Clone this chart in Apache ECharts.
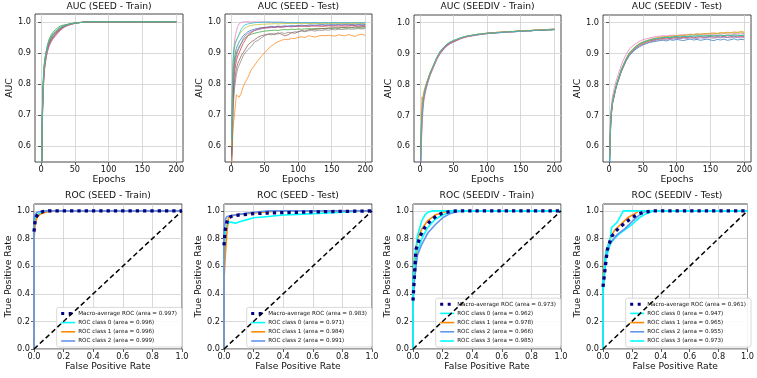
<!DOCTYPE html>
<html><head><meta charset="utf-8">
<script src="https://cdn.jsdelivr.net/npm/echarts@6/dist/echarts.min.js"></script>
<style>html,body{margin:0;padding:0;background:#fff}#c{width:757px;height:378px}</style>
</head><body><div id="c"></div>
<script>
// ---------- tick labels / titles ----------
const aucTicksX = [0, 50, 100, 150, 200];
const aucTicksY = [0.6, 0.7, 0.8, 0.9, 1.0];
const rocTicks = [0, 0.2, 0.4, 0.6, 0.8, 1.0];
const titles = ['AUC (SEED - Train)', 'AUC (SEED - Test)', 'AUC (SEEDIV - Train)', 'AUC (SEEDIV - Test)',
                'ROC (SEED - Train)', 'ROC (SEED - Test)', 'ROC (SEEDIV - Train)', 'ROC (SEEDIV - Test)'];

// ---------- AUC curves (epochs sampled) ----------
const epochs = [1,2,3,4,5,6,8,10,12,15,18,21,25,30,35,40,45,50,55,60,65,70,75,80,85,90,95,100,105,110,115,120,125,130,135,140,145,150,155,160,165,170,175,180,185,190,195,200];

// SEED - Train (10 folds)
const seedTrain0 = [0.53,0.70,0.78,0.83,0.86,0.875,0.9,0.92,0.935,0.948,0.957,0.964,0.973,0.981,0.987,0.991,0.994,0.996,0.997,0.998,0.999,0.999,1,1,1,1,1,1,1,1,1,1,1,1,1,1,1,1,1,1,1,1,1,1,1,1,1,1];
const seedTrain1 = [0.54,0.68,0.76,0.81,0.84,0.86,0.89,0.91,0.925,0.94,0.95,0.958,0.968,0.978,0.985,0.989,0.992,0.995,0.997,0.998,0.998,0.999,1,1,1,1,1,1,1,1,1,1,1,1,1,1,1,1,1,1,1,1,1,1,1,1,1,1];
const seedTrain2 = [0.53,0.72,0.80,0.845,0.87,0.885,0.91,0.93,0.945,0.958,0.967,0.974,0.982,0.988,0.99,0.992,0.994,0.996,0.997,0.998,0.999,0.999,1,1,1,1,1,1,1,1,1,1,1,1,1,1,1,1,1,1,1,1,1,1,1,1,1,1];
const seedTrain3 = [0.53,0.69,0.77,0.82,0.85,0.87,0.895,0.915,0.928,0.942,0.952,0.96,0.97,0.979,0.985,0.989,0.993,0.995,0.997,0.998,0.999,0.999,1,1,1,1,1,1,1,1,1,1,1,1,1,1,1,1,1,1,1,1,1,1,1,1,1,1];
const seedTrain4 = [0.55,0.70,0.77,0.815,0.845,0.865,0.89,0.908,0.922,0.937,0.948,0.957,0.967,0.977,0.984,0.989,0.992,0.995,0.997,0.998,0.999,1,1,1,1,1,1,1,1,1,1,1,1,1,1,1,1,1,1,1,1,1,1,1,1,1,1,1];
const seedTrain5 = [0.53,0.71,0.79,0.835,0.86,0.88,0.905,0.922,0.935,0.95,0.96,0.966,0.975,0.984,0.989,0.992,0.994,0.996,0.998,0.998,0.999,1,1,1,1,1,1,1,1,1,1,1,1,1,1,1,1,1,1,1,1,1,1,1,1,1,1,1];
const seedTrain6 = [0.54,0.69,0.77,0.82,0.85,0.87,0.893,0.91,0.922,0.935,0.945,0.952,0.963,0.975,0.983,0.988,0.992,0.995,0.997,0.998,0.999,0.999,1,1,1,1,1,1,1,1,1,1,1,1,1,1,1,1,1,1,1,1,1,1,1,1,1,1];
const seedTrain7 = [0.53,0.70,0.785,0.83,0.855,0.872,0.9,0.917,0.93,0.942,0.95,0.957,0.966,0.977,0.985,0.99,0.993,0.995,0.997,0.998,0.999,1,1,1,1,1,1,1,1,1,1,1,1,1,1,1,1,1,1,1,1,1,1,1,1,1,1,1];
const seedTrain8 = [0.54,0.72,0.79,0.84,0.865,0.882,0.905,0.925,0.938,0.952,0.961,0.968,0.976,0.983,0.988,0.991,0.994,0.996,0.997,0.998,0.999,1,1,1,1,1,1,1,1,1,1,1,1,1,1,1,1,1,1,1,1,1,1,1,1,1,1,1];
const seedTrain9 = [0.53,0.73,0.80,0.845,0.868,0.885,0.908,0.927,0.94,0.953,0.962,0.969,0.977,0.984,0.988,0.991,0.994,0.996,0.997,0.998,0.999,1,1,1,1,1,1,1,1,1,1,1,1,1,1,1,1,1,1,1,1,1,1,1,1,1,1,1];

// SEED - Test (10 folds)
const seedTest0 = [0.6,0.75,0.82,0.86,0.88,0.895,0.915,0.925,0.935,0.945,0.955,0.96,0.968,0.973,0.976,0.979,0.981,0.982, 0.983,0.985,0.984,0.986,0.985,0.987,0.986,0.988,0.987,0.988,0.989,0.988,0.989,0.99,0.989,0.99,0.991,0.99,0.99,0.991,0.99,0.991,0.99,0.991,0.992,0.991,0.99,0.991,0.992,0.991];
const seedTest1 = [0.52,0.6,0.65,0.68,0.695,0.72,0.765,0.76,0.757,0.77,0.79,0.805,0.82,0.845,0.86,0.875,0.888,0.9, 0.912,0.922,0.93,0.936,0.94,0.944,0.942,0.947,0.946,0.95,0.952,0.949,0.955,0.953,0.951,0.954,0.956,0.955,0.957,0.955,0.954,0.958,0.956,0.955,0.959,0.956,0.953,0.958,0.96,0.956];
const seedTest2 = [0.58,0.72,0.8,0.84,0.86,0.88,0.9,0.91,0.92,0.93,0.94,0.948,0.955,0.96,0.963,0.966,0.968,0.97, 0.971,0.972,0.973,0.972,0.974,0.975,0.974,0.976,0.975,0.977,0.976,0.977,0.978,0.977,0.978,0.979,0.978,0.979,0.98,0.979,0.98,0.979,0.981,0.98,0.98,0.981,0.98,0.981,0.98,0.981];
const seedTest3 = [0.57,0.68,0.75,0.8,0.83,0.85,0.875,0.89,0.9,0.915,0.93,0.94,0.955,0.965,0.972,0.976,0.979,0.981, 0.982,0.983,0.982,0.984,0.983,0.984,0.985,0.984,0.985,0.986,0.985,0.986,0.985,0.986,0.987,0.986,0.985,0.986,0.987,0.986,0.987,0.986,0.987,0.986,0.987,0.988,0.987,0.986,0.987,0.986];
const seedTest4 = [0.58,0.7,0.77,0.82,0.85,0.87,0.89,0.905,0.915,0.93,0.945,0.955,0.962,0.968,0.972,0.975,0.977,0.979, 0.98,0.981,0.982,0.983,0.982,0.984,0.985,0.984,0.985,0.986,0.987,0.986,0.987,0.988,0.987,0.988,0.989,0.988,0.989,0.988,0.989,0.99,0.989,0.99,0.989,0.99,0.989,0.99,0.988,0.989];
const seedTest5 = [0.56,0.64,0.72,0.77,0.8,0.82,0.85,0.865,0.875,0.89,0.9,0.91,0.925,0.935,0.942,0.95,0.955,0.958, 0.96,0.962,0.958,0.965,0.96,0.955,0.958,0.965,0.963,0.968,0.972,0.97,0.974,0.976,0.975,0.977,0.978,0.977,0.979,0.98,0.981,0.98,0.982,0.981,0.983,0.982,0.984,0.983,0.984,0.985];
const seedTest6 = [0.6,0.78,0.85,0.9,0.93,0.95,0.97,0.985,0.993,0.998,0.999,1,1,0.999,1,0.999,1,0.999, 0.999,0.998,0.999,0.998,0.999,0.998,0.997,0.998,0.997,0.998,0.997,0.996,0.997,0.996,0.997,0.996,0.997,0.996,0.996,0.997,0.996,0.997,0.996,0.995,0.996,0.997,0.996,0.996,0.997,0.996];
const seedTest7 = [0.55,0.62,0.7,0.75,0.78,0.8,0.83,0.85,0.86,0.875,0.89,0.9,0.91,0.92,0.935,0.94,0.948,0.955, 0.96,0.958,0.963,0.96,0.965,0.962,0.966,0.964,0.968,0.967,0.97,0.968,0.971,0.972,0.97,0.973,0.972,0.974,0.973,0.975,0.974,0.976,0.975,0.976,0.977,0.976,0.977,0.978,0.977,0.978];
const seedTest8 = [0.6,0.78,0.85,0.89,0.91,0.925,0.94,0.95,0.958,0.967,0.975,0.98,0.985,0.988,0.99,0.991,0.992,0.992, 0.993,0.993,0.994,0.993,0.994,0.994,0.995,0.994,0.995,0.994,0.995,0.995,0.994,0.995,0.995,0.994,0.995,0.995,0.994,0.995,0.995,0.994,0.995,0.994,0.995,0.995,0.994,0.995,0.994,0.995];
const seedTest9 = [0.62,0.8,0.88,0.91,0.92,0.93,0.94,0.95,0.96,0.975,0.985,0.99,0.993,0.995,0.997,0.998,0.998,0.999, 0.999,0.999,0.998,0.999,0.998,0.998,0.997,0.998,0.997,0.998,0.997,0.998,0.997,0.997,0.998,0.997,0.997,0.998,0.997,0.997,0.998,0.997,0.997,0.998,0.997,0.997,0.998,0.997,0.997,0.998];

// SEEDIV - Train (8 folds)
const seedivTrain0 = [0.53,0.62,0.68,0.72,0.74,0.76,0.78,0.797,0.812,0.832,0.848,0.862,0.882,0.9,0.915,0.925,0.933,0.938, 0.944,0.948,0.952,0.955,0.957,0.96,0.96,0.962,0.964,0.965,0.966,0.968,0.967,0.969,0.968,0.97,0.971,0.97,0.972,0.973,0.972,0.974,0.973,0.975,0.976,0.975,0.977,0.976,0.977,0.978];
const seedivTrain1 = [0.6,0.72,0.76,0.75,0.77,0.78,0.795,0.81,0.82,0.838,0.853,0.868,0.886,0.906,0.92,0.93,0.937,0.942, 0.946,0.951,0.953,0.957,0.958,0.961,0.962,0.964,0.963,0.967,0.966,0.968,0.969,0.968,0.971,0.97,0.972,0.971,0.973,0.972,0.974,0.975,0.974,0.976,0.975,0.977,0.976,0.978,0.977,0.979];
const seedivTrain2 = [0.57,0.66,0.71,0.735,0.755,0.77,0.788,0.803,0.818,0.838,0.852,0.866,0.887,0.907,0.919,0.929,0.936,0.941, 0.945,0.95,0.954,0.956,0.959,0.96,0.963,0.962,0.965,0.966,0.968,0.967,0.969,0.968,0.97,0.971,0.97,0.972,0.973,0.972,0.974,0.973,0.975,0.976,0.975,0.977,0.976,0.978,0.977,0.978];
const seedivTrain3 = [0.55,0.63,0.69,0.725,0.745,0.76,0.78,0.795,0.81,0.83,0.846,0.862,0.883,0.903,0.916,0.927,0.934,0.939, 0.943,0.949,0.952,0.955,0.957,0.959,0.961,0.962,0.964,0.965,0.966,0.966,0.968,0.969,0.969,0.97,0.971,0.971,0.972,0.973,0.973,0.974,0.974,0.975,0.976,0.976,0.977,0.977,0.978,0.978];
const seedivTrain4 = [0.58,0.67,0.7,0.74,0.752,0.768,0.787,0.802,0.816,0.834,0.849,0.864,0.883,0.902,0.917,0.926,0.934,0.94, 0.944,0.95,0.953,0.956,0.958,0.959,0.962,0.963,0.965,0.966,0.967,0.968,0.968,0.97,0.97,0.971,0.971,0.972,0.973,0.973,0.974,0.975,0.975,0.976,0.976,0.977,0.977,0.978,0.979,0.98];
const seedivTrain5 = [0.53,0.6,0.66,0.7,0.73,0.75,0.775,0.792,0.81,0.83,0.845,0.86,0.88,0.9,0.912,0.924,0.932,0.937, 0.942,0.947,0.951,0.954,0.956,0.958,0.96,0.962,0.963,0.964,0.966,0.966,0.967,0.968,0.969,0.969,0.97,0.971,0.971,0.972,0.973,0.973,0.974,0.975,0.975,0.976,0.976,0.977,0.977,0.978];
const seedivTrain6 = [0.57,0.66,0.72,0.74,0.758,0.772,0.79,0.805,0.817,0.836,0.851,0.866,0.886,0.906,0.919,0.93,0.937,0.942, 0.946,0.95,0.954,0.957,0.958,0.961,0.962,0.964,0.964,0.966,0.968,0.967,0.969,0.97,0.97,0.971,0.972,0.972,0.973,0.974,0.974,0.975,0.975,0.976,0.977,0.977,0.978,0.978,0.979,0.981];
const seedivTrain7 = [0.55,0.65,0.7,0.73,0.752,0.766,0.786,0.801,0.816,0.836,0.851,0.867,0.888,0.908,0.92,0.931,0.938,0.943, 0.947,0.951,0.954,0.957,0.958,0.96,0.962,0.963,0.964,0.965,0.967,0.966,0.968,0.968,0.969,0.97,0.971,0.971,0.972,0.972,0.973,0.974,0.974,0.975,0.975,0.976,0.976,0.977,0.977,0.977];

// SEEDIV - Test (8 folds)
const seedivTest0 = [0.54,0.64,0.69,0.715,0.735,0.745,0.765,0.785,0.8,0.82,0.84,0.855,0.875,0.893,0.905,0.915,0.922,0.928, 0.932,0.936,0.938,0.94,0.942,0.944,0.941,0.945,0.943,0.946,0.944,0.942,0.945,0.947,0.944,0.946,0.943,0.945,0.947,0.944,0.942,0.946,0.944,0.947,0.943,0.945,0.948,0.944,0.946,0.945];
const seedivTest1 = [0.58,0.67,0.71,0.725,0.745,0.755,0.775,0.792,0.808,0.828,0.848,0.863,0.883,0.903,0.915,0.925,0.933,0.938, 0.942,0.946,0.949,0.951,0.953,0.955,0.954,0.957,0.956,0.958,0.96,0.959,0.961,0.963,0.962,0.964,0.963,0.965,0.964,0.966,0.967,0.965,0.968,0.967,0.969,0.968,0.97,0.969,0.971,0.97];
const seedivTest2 = [0.56,0.66,0.7,0.72,0.74,0.752,0.772,0.79,0.806,0.826,0.846,0.861,0.881,0.9,0.913,0.923,0.931,0.936, 0.94,0.943,0.946,0.948,0.95,0.951,0.953,0.952,0.954,0.955,0.953,0.956,0.955,0.957,0.956,0.958,0.957,0.956,0.958,0.959,0.957,0.959,0.96,0.958,0.96,0.959,0.961,0.96,0.959,0.961];
const seedivTest3 = [0.57,0.64,0.69,0.715,0.738,0.748,0.768,0.788,0.803,0.822,0.842,0.857,0.877,0.897,0.909,0.919,0.927,0.933, 0.937,0.941,0.943,0.946,0.947,0.949,0.95,0.948,0.951,0.952,0.95,0.953,0.952,0.954,0.951,0.953,0.955,0.952,0.954,0.956,0.953,0.955,0.954,0.956,0.953,0.955,0.957,0.954,0.956,0.955];
const seedivTest4 = [0.55,0.65,0.7,0.72,0.74,0.75,0.77,0.788,0.804,0.823,0.843,0.858,0.878,0.897,0.908,0.918,0.925,0.93, 0.934,0.938,0.941,0.943,0.945,0.944,0.946,0.948,0.947,0.949,0.948,0.95,0.949,0.951,0.95,0.949,0.951,0.95,0.952,0.951,0.95,0.952,0.951,0.953,0.952,0.951,0.953,0.952,0.951,0.952];
const seedivTest5 = [0.57,0.68,0.72,0.74,0.76,0.77,0.79,0.808,0.822,0.842,0.862,0.878,0.896,0.915,0.925,0.933,0.94,0.945, 0.948,0.951,0.953,0.955,0.957,0.958,0.957,0.959,0.96,0.958,0.96,0.961,0.96,0.962,0.961,0.963,0.962,0.961,0.963,0.964,0.962,0.964,0.963,0.965,0.964,0.963,0.965,0.964,0.966,0.965];
const seedivTest6 = [0.56,0.65,0.7,0.72,0.74,0.75,0.768,0.787,0.803,0.823,0.843,0.858,0.879,0.899,0.911,0.921,0.929,0.935, 0.939,0.943,0.946,0.949,0.951,0.953,0.955,0.954,0.957,0.958,0.957,0.959,0.961,0.96,0.962,0.963,0.962,0.964,0.965,0.963,0.966,0.965,0.967,0.966,0.968,0.967,0.969,0.968,0.97,0.968];
const seedivTest7 = [0.55,0.66,0.71,0.725,0.745,0.755,0.773,0.792,0.807,0.827,0.847,0.862,0.882,0.901,0.913,0.923,0.931,0.937, 0.941,0.944,0.947,0.949,0.95,0.952,0.953,0.952,0.954,0.955,0.954,0.956,0.955,0.956,0.957,0.956,0.957,0.958,0.957,0.956,0.958,0.957,0.958,0.957,0.959,0.958,0.957,0.958,0.959,0.958];

// ---------- ROC curves ----------
const diagX = [0, 1], diagY = [0, 1];
// SEED - Train
const stMacroF = [0,0.01,0.03,0.06,0.1,0.2,0.4,0.6,0.8,1], stMacroT = [0.85,0.95,0.98,0.995,1,1,1,1,1,1];
const stC0F = [0,0,0.005,0.01,0.02,0.03,0.05,0.08,0.12,1], stC0T = [0,0.88,0.92,0.95,0.97,0.98,0.99,0.995,1,1];
const stC1F = [0,0,0.005,0.01,0.02,0.04,0.06,0.1,0.15,1], stC1T = [0,0.8,0.87,0.92,0.95,0.975,0.985,0.995,1,1];
const stC2F = [0,0,0.005,0.01,0.02,0.04,0.06,1], stC2T = [0,0.94,0.97,0.98,0.99,0.995,1,1];
// SEED - Test
const sxMacroF = [0,0.005,0.01,0.02,0.03,0.05,0.1,0.2,0.3,0.5,0.7,0.9,1], sxMacroT = [0.75,0.82,0.87,0.92,0.95,0.96,0.97,0.98,0.985,0.99,0.995,0.998,1];
const sxC0F = [0,0,0.01,0.02,0.04,0.06,0.08,0.1,0.15,0.2,0.3,0.4,0.5,0.6,0.8,0.95,1], sxC0T = [0,0.7,0.85,0.9,0.92,0.915,0.91,0.92,0.935,0.95,0.96,0.97,0.975,0.98,0.99,1,1];
const sxC1F = [0,0,0.005,0.01,0.02,0.03,0.05,0.1,0.2,0.3,0.4,1], sxC1T = [0,0.5,0.6,0.7,0.85,0.95,0.965,0.975,0.985,0.995,1,1];
const sxC2F = [0,0,0.01,0.02,0.03,0.1,0.2,0.3,1], sxC2T = [0,0.85,0.94,0.96,0.97,0.975,0.99,1,1];
// SEEDIV - Train
const vtMacroF = [0,0.02,0.05,0.08,0.12,0.16,0.2,0.25,0.3,0.5,1], vtMacroT = [0.35,0.72,0.82,0.88,0.93,0.965,0.985,0.995,1,1,1];
const vtC0F = [0,0,0.01,0.03,0.06,0.1,0.15,0.2,0.25,0.3,1], vtC0T = [0,0.3,0.55,0.7,0.8,0.88,0.94,0.97,0.99,1,1];
const vtC1F = [0,0,0.01,0.03,0.06,0.1,0.15,0.2,0.25,1], vtC1T = [0,0.4,0.6,0.8,0.87,0.93,0.97,0.99,1,1];
const vtC2F = [0,0,0.01,0.03,0.06,0.1,0.15,0.2,0.25,0.3,0.35,1], vtC2T = [0,0.35,0.5,0.68,0.76,0.84,0.9,0.95,0.98,0.995,1,1];
const vtC3F = [0,0,0.01,0.03,0.06,0.08,0.1,0.13,1], vtC3T = [0,0.45,0.65,0.82,0.93,0.97,0.99,1,1];
// SEEDIV - Test
const vxMacroF = [0,0.03,0.06,0.09,0.12,0.16,0.2,0.24,0.28,0.35,0.5,1], vxMacroT = [0.45,0.72,0.815,0.855,0.885,0.92,0.95,0.975,0.99,1,1,1];
const vxC0F = [0,0,0.02,0.05,0.08,0.12,0.16,0.2,0.25,0.3,0.35,1], vxC0T = [0,0.4,0.65,0.76,0.8,0.84,0.87,0.9,0.95,0.98,1,1];
const vxC1F = [0,0,0.02,0.05,0.08,0.12,0.17,0.22,0.25,1], vxC1T = [0,0.55,0.7,0.8,0.86,0.9,0.95,0.98,1,1];
const vxC2F = [0,0,0.02,0.05,0.1,0.15,0.2,0.24,0.28,0.32,1], vxC2T = [0,0.45,0.68,0.77,0.83,0.87,0.92,0.96,0.99,1,1];
const vxC3F = [0,0,0.02,0.05,0.06,0.1,0.14,1], vxC3T = [0,0.5,0.7,0.8,0.88,0.92,1,1];

const legSeedTrain = ['Macro-average ROC (area = 0.997)', 'ROC class 0 (area = 0.996)', 'ROC class 1 (area = 0.996)', 'ROC class 2 (area = 0.999)'];
const legSeedTest = ['Macro-average ROC (area = 0.983)', 'ROC class 0 (area = 0.971)', 'ROC class 1 (area = 0.984)', 'ROC class 2 (area = 0.991)'];
const legSeedivTrain = ['Macro-average ROC (area = 0.973)', 'ROC class 0 (area = 0.962)', 'ROC class 1 (area = 0.978)', 'ROC class 2 (area = 0.966)', 'ROC class 3 (area = 0.985)'];
const legSeedivTest = ['Macro-average ROC (area = 0.961)', 'ROC class 0 (area = 0.947)', 'ROC class 1 (area = 0.965)', 'ROC class 2 (area = 0.955)', 'ROC class 3 (area = 0.973)'];

// ---------- build ----------
const FONT = 'DejaVu Sans';
const TXT = '#111';
const tab10 = ['#1f77b4','#ff7f0e','#2ca02c','#d62728','#9467bd','#8c564b','#e377c2','#7f7f7f','#bcbd22','#17becf'];
const tab8 = ['#1f77b4','#ff7f0e','#2ca02c','#d62728','#9467bd','#e377c2','#bcbd22','#17becf'];
const classColors = ['#00ffff', '#ff8c00', '#6495ed', '#00ffff'];

const grids = [
  {left:35, top:14, width:148, height:148},
  {left:225, top:14, width:147, height:148},
  {left:414, top:15, width:147, height:147},
  {left:603, top:15, width:148, height:147},
  {left:34, top:204, width:148, height:145},
  {left:224, top:204, width:148, height:145},
  {left:413, top:204, width:148, height:145},
  {left:603, top:204, width:148, height:145}
];

const tickLabel = {fontFamily: FONT, fontSize: 8.2, color: TXT};
function mkAxis(gi, isX, isAuc) {
  const vals = isAuc ? (isX ? aucTicksX : aucTicksY) : rocTicks;
  const ax = {
    type: 'value', gridIndex: gi,
    min: isAuc ? (isX ? -8.95 : 0.549) : 0,
    max: isAuc ? (isX ? 209.95 : 1.025) : (isX ? 1 : 1.05),
    axisLine: {show: false},
    axisTick: {show: true, customValues: vals, length: 3, lineStyle: {color: '#333', width: 0.8}},
    axisLabel: Object.assign({customValues: vals, margin: 4,
      formatter: v => (isAuc && isX) ? String(Math.round(v)) : Number(v).toFixed(1)}, tickLabel),
    splitLine: {show: true, lineStyle: {color: '#cfcfcf', width: 0.8}},
    name: isX ? (isAuc ? 'Epochs' : 'False Positive Rate') : (isAuc ? 'AUC' : 'True Positive Rate'),
    nameLocation: 'middle',
    nameGap: isX ? 13 : 20,
    nameTextStyle: {fontFamily: FONT, fontSize: 9.2, color: TXT}
  };
  return ax;
}

const xAxis = [], yAxis = [], series = [], title = [], legend = [];
grids.forEach((g, i) => {
  g.show = true; g.borderColor = '#333'; g.borderWidth = 0.9;
  xAxis.push(mkAxis(i, true, i < 4));
  yAxis.push(mkAxis(i, false, i < 4));
  title.push({text: titles[i], left: g.left + g.width / 2, top: i < 4 ? 2 : 191, padding: 0, textAlign: 'center',
    textStyle: {fontFamily: FONT, fontSize: 9.2, fontWeight: 'normal', color: TXT}});
});

function aucLines(gi, list, colors) {
  list.forEach((vals, k) => {
    series.push({type: 'line', xAxisIndex: gi, yAxisIndex: gi, symbol: 'none', silent: true,
      data: epochs.map((e, j) => [e, vals[j]]),
      lineStyle: {width: 0.9, color: colors[k], opacity: 0.8}, z: 2});
  });
}
aucLines(0, [seedTrain0,seedTrain1,seedTrain2,seedTrain3,seedTrain4,seedTrain5,seedTrain6,seedTrain7,seedTrain8,seedTrain9], tab10);
aucLines(1, [seedTest0,seedTest1,seedTest2,seedTest3,seedTest4,seedTest5,seedTest6,seedTest7,seedTest8,seedTest9], tab10);
aucLines(2, [seedivTrain0,seedivTrain1,seedivTrain2,seedivTrain3,seedivTrain4,seedivTrain5,seedivTrain6,seedivTrain7], tab8);
aucLines(3, [seedivTest0,seedivTest1,seedivTest2,seedivTest3,seedivTest4,seedivTest5,seedivTest6,seedivTest7], tab8);

function roc(gi, names, macro, classes) {
  classes.forEach((c, k) => {
    series.push({type: 'line', name: names[k + 1], xAxisIndex: gi, yAxisIndex: gi, symbol: 'none', silent: true,
      data: c[0].map((f, j) => [f, c[1][j]]),
      lineStyle: {width: 1.6, color: classColors[k]}, itemStyle: {color: classColors[k]}, z: 3});
  });
  series.push({type: 'line', xAxisIndex: gi, yAxisIndex: gi, symbol: 'none', silent: true,
    data: diagX.map((x, j) => [x, diagY[j]]),
    lineStyle: {width: 1.5, color: '#000', type: [5, 3]}, z: 4});
  series.push({type: 'line', name: names[0], xAxisIndex: gi, yAxisIndex: gi, symbol: 'none', silent: true,
    data: macro[0].map((f, j) => [f, macro[1][j]]),
    lineStyle: {width: 3.3, color: '#000080', type: [3.3, 4], cap: 'butt'}, itemStyle: {color: '#000080'}, z: 5});
}
roc(4, legSeedTrain, [stMacroF, stMacroT], [[stC0F, stC0T], [stC1F, stC1T], [stC2F, stC2T]]);
roc(5, legSeedTest, [sxMacroF, sxMacroT], [[sxC0F, sxC0T], [sxC1F, sxC1T], [sxC2F, sxC2T]]);
roc(6, legSeedivTrain, [vtMacroF, vtMacroT], [[vtC0F, vtC0T], [vtC1F, vtC1T], [vtC2F, vtC2T], [vtC3F, vtC3T]]);
roc(7, legSeedivTest, [vxMacroF, vxMacroT], [[vxC0F, vxC0T], [vxC1F, vxC1T], [vxC2F, vxC2T], [vxC3F, vxC3T]]);

function mkLegend(names, right) {
  return {
    orient: 'vertical', right: right, bottom: 31, selectedMode: false,
    data: names.map((n, k) => k === 0
      ? {name: n, lineStyle: {width: 3, type: [3, 4.5], cap: 'butt'}}
      : {name: n, lineStyle: {width: 1.6}}),
    itemWidth: 14, itemHeight: 6, itemGap: 3.2, padding: [3, 5, 3, 3],
    itemStyle: {opacity: 0},
    backgroundColor: 'rgba(255,255,255,0.85)', borderColor: '#cfcfcf', borderWidth: 0.8, borderRadius: 2,
    textStyle: {fontFamily: FONT, fontSize: 5.6, color: TXT, padding: [0, 0, 0, -2]}
  };
}
legend.push(mkLegend(legSeedTrain, 575));
legend.push(mkLegend(legSeedTest, 385));
legend.push(mkLegend(legSeedivTrain, 196));
legend.push(mkLegend(legSeedivTest, 6));

const chart = echarts.init(document.getElementById('c'), null, {renderer: 'canvas'});
chart.setOption({animation: false, backgroundColor: '#fff', grid: grids, xAxis, yAxis, series, title, legend});
</script></body></html>
